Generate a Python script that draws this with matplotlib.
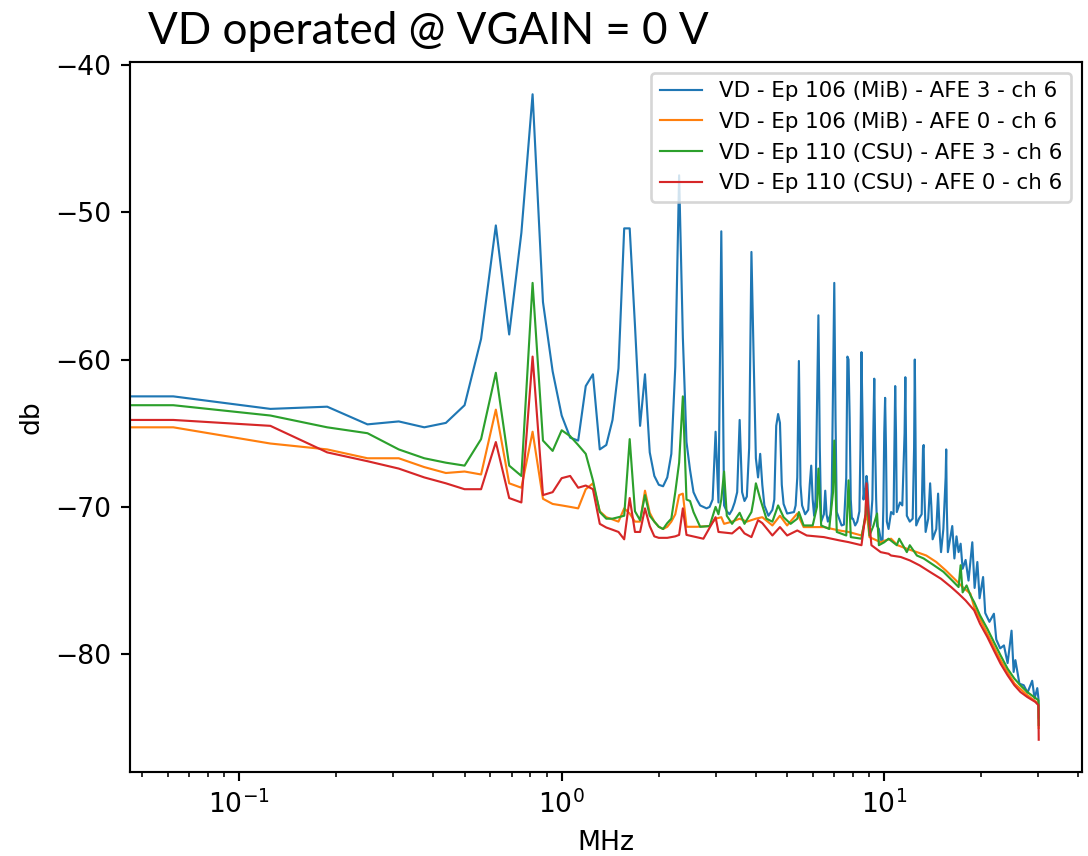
import matplotlib
matplotlib.use("Agg")
import matplotlib.pyplot as plt

# (MHz, dB)
blue_afe3_ep106 = [
    (0, -62.5), (0.0625, -62.5), (0.125, -63.35), (0.1875, -63.2), (0.25, -64.4), (0.3125, -64.2),
    (0.375, -64.6), (0.4375, -64.3), (0.5, -63.1), (0.5625, -58.6), (0.625, -50.9), (0.6875, -58.3),
    (0.75, -51.4), (0.8125, -42.0), (0.875, -56.1), (0.9375, -60.8), (1.0, -63.8), (1.0625, -65.3),
    (1.125, -65.5), (1.1875, -61.8), (1.25, -61.0), (1.3125, -66.1), (1.375, -65.8), (1.4375, -64.1),
    (1.5, -60.6), (1.5625, -51.1), (1.625, -51.1), (1.6875, -57.7), (1.75, -64.5), (1.8125, -61.0),
    (1.875, -66.3), (1.9375, -67.9), (2.0, -68.5), (2.0625, -68.6), (2.125, -68.0), (2.1875, -66.4),
    (2.25, -60.5), (2.3125, -47.5), (2.375, -58.5), (2.4375, -65.6), (2.5, -67.5), (2.5625, -69.0),
    (2.625, -69.5), (2.6875, -69.9), (2.75, -70.0), (2.8125, -70.1), (2.875, -70.0), (2.9375, -69.5),
    (3.0, -64.9), (3.0625, -69.7), (3.125, -51.3), (3.1875, -69.9), (3.25, -70.3), (3.3125, -70.5),
    (3.375, -70.2), (3.4375, -69.7), (3.5, -69.0), (3.5625, -64.1), (3.625, -69.0), (3.6875, -69.6),
    (3.75, -69.3), (3.8125, -66.0), (3.875, -52.7), (3.9375, -60.0), (4.0, -66.7), (4.0625, -68.0),
    (4.125, -66.4), (4.1875, -68.5), (4.25, -69.9), (4.375, -70.6), (4.5, -70.2), (4.5625, -69.5),
    (4.625, -64.5), (4.6875, -63.7), (4.75, -64.3), (4.8125, -68.5), (4.875, -69.8), (5.0, -70.45),
    (5.125, -70.4), (5.25, -70.35), (5.3125, -69.9), (5.375, -68.0), (5.4375, -60.1), (5.5, -68.5),
    (5.5625, -69.9), (5.6875, -70.5), (5.8125, -70.2), (5.875, -68.5), (5.9375, -67.2), (6.0, -69.5),
    (6.0625, -70.6), (6.125, -69.5), (6.1875, -63.0), (6.25, -57.0), (6.3125, -66.0), (6.375, -71.0),
    (6.5, -70.5), (6.5625, -68.9), (6.625, -70.5), (6.6875, -71.0), (6.8125, -70.5), (6.875, -69.0),
    (6.9375, -62.0), (7.0, -54.8), (7.0625, -64.0), (7.125, -70.35), (7.25, -70.8), (7.375, -71.26),
    (7.5, -71.2), (7.625, -68.0), (7.6875, -59.8), (7.75, -60.0), (7.8125, -64.0), (7.875, -69.5),
    (7.9375, -70.8), (8.0, -70.8), (8.125, -71.26), (8.25, -71.0), (8.375, -70.3), (8.4375, -66.0),
    (8.5, -59.5), (8.5625, -64.0), (8.625, -69.5), (8.6875, -68.8), (8.75, -68.8), (8.8125, -67.9),
    (8.875, -68.5), (8.9375, -70.0), (9.0, -71.26), (9.0625, -71.3), (9.1875, -69.5), (9.25, -65.0),
    (9.3125, -61.3), (9.375, -66.0), (9.4375, -69.45), (9.5, -71.3), (9.625, -71.5), (9.75, -72.2),
    (9.875, -72.4), (9.9375, -70.0), (10.0, -65.0), (10.0625, -62.6), (10.125, -66.0), (10.1875, -71.0),
    (10.3125, -71.5), (10.5, -70.35), (10.6875, -70.5), (10.8125, -61.8), (10.875, -65.0), (10.9375, -70.35),
    (11.1875, -69.7), (11.375, -69.9), (11.5625, -65.0), (11.625, -61.2), (11.6875, -66.0), (11.75, -70.6),
    (12.0, -71.0), (12.25, -70.8), (12.375, -66.0), (12.4375, -60.0), (12.5, -65.0), (12.5625, -71.26),
    (12.8125, -70.8), (13.0625, -70.5), (13.1875, -66.0), (13.25, -65.8), (13.3125, -69.0), (13.4375, -71.7),
    (13.6875, -70.8), (13.875, -68.4), (14.0, -70.0), (14.125, -72.2), (14.5, -71.5), (14.6875, -69.1),
    (14.875, -72.0), (15.0, -73.07), (15.25, -71.5), (15.5, -68.0), (15.5625, -66.1), (15.625, -70.0),
    (15.75, -73.07), (16.0, -72.16), (16.25, -71.3), (16.5, -73.5), (16.75, -72.0), (17.0, -73.07),
    (17.25, -72.5), (17.5, -74.2), (17.875, -73.6), (18.25, -75.0), (18.75, -72.4), (19.0625, -75.5),
    (19.4375, -73.74), (19.75, -76.2), (20.25, -74.76), (20.5625, -77.2), (21.1875, -77.8), (21.875, -77.25),
    (22.25, -79.0), (22.875, -79.6), (23.5, -79.4), (24.125, -80.6), (24.8125, -78.4), (25.1875, -81.2),
    (25.5, -80.4), (26.25, -82.0), (27.0625, -82.1), (27.8125, -82.6), (28.75, -81.8), (29.25, -83.0),
    (29.8125, -82.3), (30.0625, -83.0), (30.125, -84.3),
]

orange_afe0_ep106 = [
    (0, -64.6), (0.0625, -64.6), (0.125, -65.7), (0.1875, -66.1), (0.25, -66.7), (0.3125, -66.7),
    (0.375, -67.3), (0.4375, -67.7), (0.5, -67.6), (0.5625, -67.8), (0.625, -63.4), (0.6875, -68.4),
    (0.75, -68.7), (0.8125, -64.9), (0.875, -69.45), (0.9375, -69.8), (1.0, -69.9), (1.0625, -70.0),
    (1.125, -70.1), (1.1875, -68.8), (1.25, -68.4), (1.3125, -70.3), (1.375, -70.7), (1.4375, -70.85),
    (1.5, -71.0), (1.5625, -70.1), (1.625, -70.45), (1.6875, -71.0), (1.75, -71.0), (1.8125, -68.9),
    (1.875, -70.4), (1.9375, -71.0), (2.0, -71.35), (2.0625, -71.5), (2.125, -71.35), (2.1875, -71.0),
    (2.25, -70.5), (2.3125, -69.2), (2.375, -69.1), (2.4375, -71.35), (2.625, -71.35), (2.875, -71.3),
    (3.0, -70.8), (3.125, -70.7), (3.1875, -71.15), (3.375, -71.0), (3.5625, -70.8), (3.75, -71.0),
    (4.0, -70.8), (4.1875, -70.7), (4.5, -71.26), (4.75, -70.6), (5.0, -71.26), (5.375, -70.45),
    (5.625, -71.37), (6.5, -71.37), (7.25, -71.6), (7.75, -71.7), (8.5, -71.94), (8.75, -70.8),
    (8.8125, -70.25), (9.0, -72.05), (9.75, -72.4), (10.0, -72.3), (10.5, -72.16), (11.0, -72.6),
    (11.75, -72.84), (12.625, -73.07), (13.5, -73.3), (14.5, -73.74), (15.5, -74.3), (16.5, -74.88),
    (17.5, -75.44), (18.5, -75.89), (19.0, -76.8), (20.875, -78.6), (22.9375, -80.4), (25.3125, -81.98),
    (27.75, -82.77), (30.0625, -83.35), (30.125, -85.0),
]

green_afe3_ep110 = [
    (0, -63.1), (0.0625, -63.1), (0.125, -63.8), (0.1875, -64.6), (0.25, -65.0), (0.3125, -66.1),
    (0.375, -66.7), (0.4375, -67.0), (0.5, -67.2), (0.5625, -65.4), (0.625, -60.9), (0.6875, -67.2),
    (0.75, -67.9), (0.8125, -54.8), (0.875, -65.5), (0.9375, -66.2), (1.0, -64.8), (1.0625, -65.2),
    (1.125, -65.8), (1.1875, -66.4), (1.25, -68.2), (1.3125, -70.35), (1.375, -70.8), (1.4375, -70.8),
    (1.5, -70.7), (1.5625, -70.6), (1.625, -65.4), (1.6875, -70.3), (1.75, -70.9), (1.8125, -69.2),
    (1.875, -70.6), (1.9375, -71.0), (2.0, -71.35), (2.0625, -71.5), (2.125, -71.1), (2.1875, -70.8),
    (2.25, -69.0), (2.3125, -67.0), (2.375, -62.5), (2.4375, -69.5), (2.5, -69.6), (2.5625, -70.35),
    (2.6875, -71.35), (2.875, -71.3), (3.0, -70.0), (3.0625, -70.5), (3.125, -69.5), (3.1875, -67.6),
    (3.25, -70.6), (3.375, -71.15), (3.5625, -70.4), (3.6875, -71.15), (3.875, -70.35), (3.9375, -69.5),
    (4.0, -68.4), (4.125, -69.45), (4.3125, -70.8), (4.5, -71.0), (4.6875, -69.9), (4.875, -70.7),
    (5.125, -71.15), (5.375, -70.8), (5.4375, -70.35), (5.625, -71.26), (6.0, -71.26), (6.1875, -70.0),
    (6.25, -67.4), (6.375, -71.26), (6.75, -71.5), (6.9375, -69.0), (7.0, -65.5), (7.125, -71.7),
    (7.625, -71.94), (7.75, -68.2), (7.875, -72.05), (8.5, -72.16), (8.75, -70.5), (8.8125, -68.8),
    (9.0, -71.94), (9.25, -71.3), (9.5, -70.45), (9.625, -72.6), (10.0, -72.4), (10.3125, -72.16),
    (10.9375, -72.6), (11.125, -72.16), (11.75, -73.07), (12.0, -72.6), (12.625, -73.3), (13.25, -73.5),
    (14.25, -73.96), (15.25, -74.4), (16.25, -75.0), (17.0, -75.44), (17.25, -73.96), (17.5, -75.8),
    (18.0, -75.33), (18.5, -76.0), (19.0, -76.46), (19.8125, -77.36), (20.875, -78.27), (21.875, -79.17),
    (22.9375, -80.07), (24.125, -80.98), (25.3125, -81.65), (26.4375, -82.11), (27.75, -82.56),
    (29.125, -82.9), (30.0625, -83.12), (30.125, -84.8),
]

red_afe0_ep110 = [
    (0, -64.1), (0.0625, -64.1), (0.125, -64.5), (0.1875, -66.3), (0.25, -66.9), (0.3125, -67.4),
    (0.375, -68.0), (0.4375, -68.4), (0.5, -68.8), (0.5625, -68.8), (0.625, -65.6), (0.6875, -69.4),
    (0.75, -69.7), (0.8125, -59.8), (0.875, -69.2), (0.9375, -69.0), (1.0, -68.05), (1.0625, -67.9),
    (1.125, -68.7), (1.1875, -68.55), (1.25, -68.8), (1.3125, -71.15), (1.375, -71.4), (1.4375, -71.55),
    (1.5, -71.7), (1.5625, -72.2), (1.625, -69.4), (1.6875, -71.7), (1.75, -71.7), (1.8125, -70.1),
    (1.875, -71.3), (1.9375, -72.0), (2.0, -72.1), (2.125, -72.1), (2.25, -72.0), (2.3125, -71.9),
    (2.375, -70.1), (2.4375, -71.9), (2.75, -72.16), (3.0, -70.7), (3.0625, -71.7), (3.375, -71.8),
    (3.5625, -71.37), (3.6875, -71.8), (3.875, -72.05), (4.0625, -70.9), (4.1875, -71.1), (4.5, -71.94),
    (4.75, -71.37), (5.0, -71.94), (5.375, -71.6), (5.75, -71.94), (6.5, -72.05), (7.25, -72.27),
    (7.75, -72.39), (8.5, -72.6), (8.75, -70.5), (8.8125, -68.4), (8.9375, -70.35), (9.125, -72.6),
    (9.75, -73.07), (10.3125, -73.18), (10.5, -73.3), (11.25, -73.4), (12.0, -73.63), (12.875, -73.97),
    (13.875, -74.42), (15.0, -74.88), (16.125, -75.44), (17.0, -75.89), (17.875, -76.35), (19.0, -77.02),
    (19.8125, -77.93), (20.875, -78.83), (21.875, -79.74), (22.9375, -80.64), (24.125, -81.43),
    (25.3125, -82.1), (26.4375, -82.56), (27.75, -82.9), (29.375, -83.23), (30.0625, -83.46), (30.125, -85.8),
]

series = [
    ("VD - Ep 106 (MiB) - AFE 3 - ch 6", blue_afe3_ep106),
    ("VD - Ep 106 (MiB) - AFE 0 - ch 6", orange_afe0_ep106),
    ("VD - Ep 110 (CSU) - AFE 3 - ch 6", green_afe3_ep110),
    ("VD - Ep 110 (CSU) - AFE 0 - ch 6", red_afe0_ep110),
]

DPI = 192
fig = plt.figure(figsize=(1088 / DPI, 856 / DPI), dpi=DPI)
ax = fig.add_axes([130 / 1088, 84 / 856, 952 / 1088, 710 / 856])

for label, pts in series:
    f = [p[0] for p in pts]
    db = [p[1] for p in pts]
    ax.plot(f, db, linewidth=0.8, label=label)

ax.set_xscale("log")
ax.set_xlabel("MHz")
ax.set_ylabel("db")
ax.legend(loc="upper right", fontsize=8)

# title was pasted over the figure in a slide font
fig.text(148 / 1088, 1 - 44 / 856, "VD operated @ VGAIN = 0 V",
         fontsize=16.5, family="Lato")

fig.savefig("out.png", dpi=DPI)
